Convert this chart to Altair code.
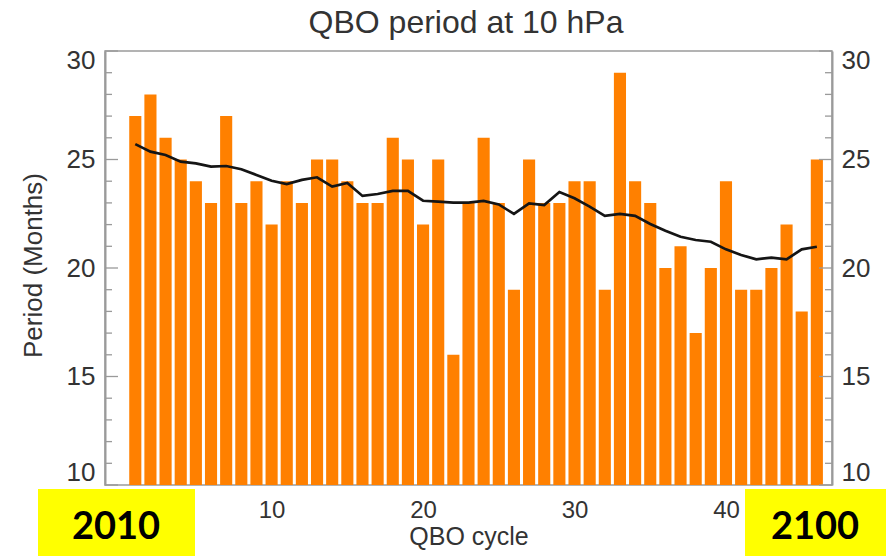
import altair as alt
import pandas as pd

# ---- data ----
cycles = list(range(1, 47))
periods = [27, 28, 26, 25, 24, 23, 27, 23, 24, 22,
           24, 23, 25, 25, 24, 23, 23, 26, 25, 22,
           25, 16, 23, 26, 23, 19, 25, 23, 23, 24,
           24, 19, 29, 24, 23, 20, 21, 17, 20, 24,
           19, 19, 20, 22, 18, 25]
smooth = [25.71, 25.36, 25.21, 24.90, 24.82, 24.67, 24.70, 24.55, 24.29, 24.02,
          23.87, 24.06, 24.18, 23.75, 23.92, 23.32, 23.41, 23.55, 23.55, 23.10,
          23.06, 23.01, 23.01, 23.09, 22.93, 22.49, 22.98, 22.90, 23.50, 23.21,
          22.83, 22.40, 22.49, 22.40, 22.03, 21.72, 21.44, 21.29, 21.21, 20.86,
          20.60, 20.40, 20.48, 20.40, 20.86, 20.98]
x_ticks = [10, 20, 30, 40]
y_major = [10, 15, 20, 25, 30]
y_minor = [11, 12, 13, 14, 16, 17, 18, 19, 21, 22, 23, 24, 26, 27, 28, 29]
corner_labels = ["2010", "2100"]
title_text = "QBO period at 10 hPa"

df = pd.DataFrame({"cycle": cycles, "period": periods, "smooth": smooth})
base = alt.Chart(df)

FONT = "Liberation Sans"
AX = "#9a9a9a"
TXT = "#333333"
W, H = 727, 434
yscale = alt.Scale(domain=[10, 30], nice=False, zero=False)
xscale = alt.Scale(domain=[-1, 47], nice=False, zero=False)
flush_shift = alt.ExprRef(expr="datum.value == 30 ? -4 : 0")

bars = base.transform_calculate(
    x0="datum.cycle - 0.4", x1="datum.cycle + 0.4"
).mark_bar(color="#ff8000").encode(
    x=alt.X("x0:Q", scale=xscale, title="QBO cycle",
            axis=alt.Axis(values=x_ticks, ticks=False, domain=False, grid=False,
                          labelFont=FONT, labelFontSize=24, labelColor=TXT, labelPadding=13,
                          titleFont=FONT, titleFontSize=25, titleFontWeight="normal",
                          titleColor=TXT, titleY=59, titleBaseline="alphabetic")),
    x2="x1:Q",
    y=alt.Y("period:Q", scale=yscale, title="Period (Months)",
            axis=alt.Axis(orient="left", values=y_major, ticks=False, grid=False,
                          domainColor=AX, domainWidth=2, labelFlush=True,
                          labelOffset=flush_shift,
                          labelFont=FONT, labelFontSize=26, labelColor=TXT, labelPadding=10,
                          titleFont=FONT, titleFontSize=26, titleFontWeight="normal",
                          titleColor=TXT, titleX=-64, titleY=214, titleAngle=270,
                          titleBaseline="alphabetic", titleAlign="center")),
    y2=alt.datum(10),
)

line = base.mark_line(color="#151515", strokeWidth=2.7).encode(
    x=alt.X("cycle:Q", scale=xscale, title="QBO cycle"),
    y=alt.Y("smooth:Q", scale=yscale, title=None,
            axis=alt.Axis(orient="right", values=y_major, ticks=False, grid=False,
                          domainColor=AX, domainWidth=2, labelFlush=True,
                          labelOffset=flush_shift,
                          labelFont=FONT, labelFontSize=26, labelColor=TXT, labelPadding=9)),
)


def tick_rules(vals, x0, x1):
    return alt.Chart(pd.DataFrame({"v": vals})).mark_rule(
        color=AX, strokeWidth=1.3
    ).encode(
        y=alt.Y("v:Q", scale=yscale, axis=None),
        x=alt.value(x0), x2=alt.value(x1),
    )


ticks = [tick_rules(y_major, 0, 13), tick_rules(y_minor, 0, 7),
         tick_rules(y_major, W - 13, W), tick_rules(y_minor, W - 7, W)]

one = alt.Data(values=[{}])
box1 = alt.Chart(one).mark_rect(color="#ffff00").encode(
    x=alt.value(-67), x2=alt.value(90), y=alt.value(438), y2=alt.value(505))
box2 = alt.Chart(one).mark_rect(color="#ffff00").encode(
    x=alt.value(640), x2=alt.value(781), y=alt.value(438), y2=alt.value(505))
txt1 = alt.Chart(one).mark_text(text=corner_labels[0], font="Lato",
                                fontWeight="bold", fontSize=38, color="black",
                                align="center", baseline="middle").encode(
    x=alt.value(11), y=alt.value(477))
txt2 = alt.Chart(one).mark_text(text=corner_labels[1], font="Lato",
                                fontWeight="bold", fontSize=38, color="black",
                                align="center", baseline="middle").encode(
    x=alt.value(710), y=alt.value(477))
title = alt.Chart(one).mark_text(text=title_text, font=FONT, fontSize=32,
                                 color=TXT, align="center",
                                 baseline="alphabetic").encode(
    x=alt.value(361), y=alt.value(-18))

chart = alt.layer(bars, line, *ticks, box1, box2, txt1, txt2, title).resolve_axis(
    y="independent"
).properties(
    width=W, height=H, autosize="none",
    padding={"left": 105, "top": 51, "right": 54, "bottom": 71},
).configure_view(stroke=AX, strokeWidth=1.5)

chart.save("out.html", embed_options={"renderer": "svg", "actions": False})
